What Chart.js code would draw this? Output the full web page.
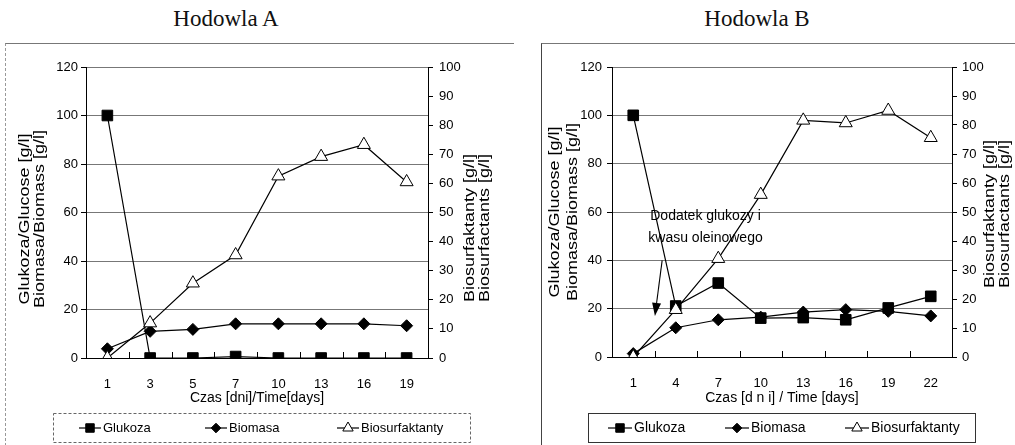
<!DOCTYPE html>
<html><head><meta charset="utf-8">
<script src="https://cdn.jsdelivr.net/npm/chart.js@4/dist/chart.umd.min.js"></script>
<style>
html,body{margin:0;padding:0;background:#fff;width:1015px;height:445px;overflow:hidden;position:relative}
.t{position:absolute;top:6px;font-family:'Liberation Serif','Times New Roman',serif;font-size:23px;color:#111;transform:translateX(-50%);white-space:nowrap}
#fA{position:absolute;left:5px;top:43px;width:508px;height:402px;border-top:1px solid #777;border-left:1px dashed #999}
#fB{position:absolute;left:541px;top:43px;width:474px;height:402px;border-top:1px solid #777;border-left:1px solid #444}
.w{position:absolute;top:0}
canvas{display:block}
</style></head>
<body>
<div id="fA"></div><div id="fB"></div>
<div class="t" style="left:226px">Hodowla A</div>
<div class="t" style="left:757px">Hodowla B</div>
<div class="w" style="left:0"><canvas id="cA" width="520" height="445"></canvas></div>
<div class="w" style="left:520px"><canvas id="cB" width="495" height="445"></canvas></div>
<script>
// ---- data ----
const daysA = ['1','3','5','7','10','13','16','19'];
const glukozaA = [100, 0, 0, 0.6, 0, 0, 0, 0];
const biomasaA = [3.8, 11, 11.8, 14.1, 14.1, 14.1, 14.1, 13.3];
const biosurfA = [0, 12, 25.7, 35.4, 62.5, 69.2, 73.3, 60.5];

const daysB = ['1','4','7','10','13','16','19','22'];
const glukozaB = [100, 21.1, 30.6, 16.1, 16.3, 15.4, 20.3, 25.1];
const biomasaB = [1.4, 12.1, 15.4, 16.5, 18.6, 19.6, 18.9, 17];
const biosurfB = [0, 16.3, 33.9, 56, 81.6, 80.7, 85, 75.6];

const seriesNames = ['Glukoza', 'Biomasa', 'Biosurfaktanty'];
const leftTicks = {min: 0, max: 120, step: 20};
const rightTicks = {min: 0, max: 100, step: 10};
const xTitleA = 'Czas [dni]/Time[days]';
const xTitleB = 'Czas [d n i] / Time [days]';
const yTitleL = ['Glukoza/Glucose [g/l]', 'Biomasa/Biomass [g/l]'];
const yTitleR = ['Biosurfaktanty [g/l]', 'Biosurfactants [g/l]'];
const noteLines = ['Dodatek glukozy i', 'kwasu oleinowego'];

const FONT = "'Liberation Sans', Arial, sans-serif";

function drawMarker(ctx, style, x, y, r, fill, stroke) {
  ctx.save();
  ctx.fillStyle = fill; ctx.strokeStyle = stroke; ctx.lineWidth = 1;
  ctx.beginPath();
  if (style === 'rect') {
    const s = r * Math.SQRT1_2;
    ctx.rect(x - s, y - s, 2 * s, 2 * s);
  } else if (style === 'rectRot') {
    ctx.moveTo(x, y - r); ctx.lineTo(x + r, y); ctx.lineTo(x, y + r); ctx.lineTo(x - r, y); ctx.closePath();
  } else {
    const a = 2 * Math.PI / 3;
    ctx.moveTo(x, y - r);
    ctx.lineTo(x + Math.sin(a) * r, y - Math.cos(a) * r);
    ctx.lineTo(x + Math.sin(2 * a) * r, y - Math.cos(2 * a) * r);
    ctx.closePath();
  }
  ctx.fill(); ctx.stroke();
  ctx.restore();
}

const boxLegend = {
  id: 'boxLegend',
  afterDraw(chart, args, o) {
    const ctx = chart.ctx;
    ctx.save();
    ctx.strokeStyle = o.borderColor; ctx.lineWidth = 1;
    if (o.dash) ctx.setLineDash(o.dash);
    ctx.strokeRect(o.x + .5, o.y + .5, o.w, o.h);
    ctx.setLineDash([]);
    ctx.font = o.font; ctx.textBaseline = 'middle'; ctx.textAlign = 'left';
    const cy = o.y + o.h / 2 + 0.5;
    chart.data.datasets.forEach((ds, i) => {
      const mx = o.items[i];
      ctx.strokeStyle = '#000'; ctx.lineWidth = 1.2;
      ctx.beginPath(); ctx.moveTo(mx - o.seg / 2, cy); ctx.lineTo(mx + o.seg / 2, cy); ctx.stroke();
      drawMarker(ctx, ds.pointStyle, mx, cy, ds.pointRadius * 0.8, ds.pointBackgroundColor, ds.pointBorderColor);
      ctx.fillStyle = '#000';
      ctx.fillText(ds.label, mx + o.seg / 2 + 2, cy);
    });
    ctx.restore();
  }
};

const axisTitles = {
  id: 'axisTitles',
  afterDraw(chart, args, o) {
    const ctx = chart.ctx;
    o.items.forEach(it => {
      ctx.save();
      ctx.translate(it.x, it.y);
      ctx.rotate(-Math.PI / 2);
      ctx.scale(o.stretch, 1);
      ctx.font = o.font; ctx.fillStyle = '#000';
      ctx.textAlign = 'center'; ctx.textBaseline = 'middle';
      ctx.fillText(it.text, 0, 0);
      ctx.restore();
    });
  }
};

// small upward tick marks between categories on the x axis
const innerTicks = {
  id: 'innerTicks',
  afterDatasetsDraw(chart, args, o) {
    const xs = chart.scales.x, ctx = chart.ctx, n = chart.data.labels.length;
    const yb = Math.round(chart.chartArea.bottom);
    ctx.save();
    ctx.strokeStyle = '#000'; ctx.lineWidth = 1;
    ctx.beginPath();
    for (let i = 0; i <= n; i++) {
      const px = Math.round(xs.getPixelForValue(i - 0.5)) + 0.5;
      ctx.moveTo(px, yb); ctx.lineTo(px, yb - o.len);
    }
    ctx.stroke();
    ctx.restore();
  }
};

const annot = {
  id: 'annot',
  afterDatasetsDraw(chart, args, o) {
    if (!o || !o.lines) return;
    const xs = chart.scales.x, ys = chart.scales.y, ctx = chart.ctx;
    ctx.save();
    ctx.font = o.font; ctx.fillStyle = '#000'; ctx.textAlign = 'center'; ctx.textBaseline = 'middle';
    o.lines.forEach((t, i) => ctx.fillText(t, xs.getPixelForValue(o.textX), ys.getPixelForValue(o.textY[i])));
    const x1 = xs.getPixelForValue(o.from[0]), y1 = ys.getPixelForValue(o.from[1]);
    const x2 = xs.getPixelForValue(o.to[0]), y2 = ys.getPixelForValue(o.to[1]);
    const ang = Math.atan2(y2 - y1, x2 - x1), L = 13, W = 4.5;
    const bx = x2 - Math.cos(ang) * L, by = y2 - Math.sin(ang) * L;
    ctx.strokeStyle = '#000'; ctx.lineWidth = 1.1;
    ctx.beginPath(); ctx.moveTo(x1, y1); ctx.lineTo(bx, by); ctx.stroke();
    ctx.beginPath();
    ctx.moveTo(x2, y2);
    ctx.lineTo(bx + Math.sin(ang) * W, by - Math.cos(ang) * W);
    ctx.lineTo(bx - Math.sin(ang) * W, by + Math.cos(ang) * W);
    ctx.closePath(); ctx.fill();
    ctx.restore();
  }
};

function datasets(g, b, s) {
  const base = {borderColor: '#000', borderWidth: 1.2, pointBorderColor: '#000', pointBorderWidth: 1, tension: 0, fill: false};
  return [
    Object.assign({}, base, {label: seriesNames[0], data: g, yAxisID: 'y', pointStyle: 'rect', pointRadius: 7.5, pointBackgroundColor: '#000', order: 1}),
    Object.assign({}, base, {label: seriesNames[1], data: b, yAxisID: 'y', pointStyle: 'rectRot', pointRadius: 6, pointBackgroundColor: '#000', order: 2}),
    Object.assign({}, base, {label: seriesNames[2], data: s, yAxisID: 'y1', pointStyle: 'triangle', pointRadius: 7.5, pointBackgroundColor: '#fff', order: 0})
  ];
}

function options(cfg) {
  const tickFont = {family: FONT, size: 13};
  return {
    responsive: false, animation: false, devicePixelRatio: 1,
    layout: {padding: {top: cfg.top, left: 0, right: 0, bottom: 0}},
    plugins: {
      legend: {display: false}, tooltip: {enabled: false},
      boxLegend: cfg.legend,
      axisTitles: {items: cfg.titles, font: '15px ' + FONT, stretch: 1.2},
      innerTicks: {len: 6},
      annot: cfg.annot || {}
    },
    scales: {
      x: {
        type: 'category', offset: true,
        grid: {display: false, drawTicks: false, tickLength: 0},
        border: {display: true, color: '#000', width: 1},
        ticks: {color: '#000', font: tickFont, padding: 19, maxRotation: 0, autoSkip: false},
        title: {display: true, text: cfg.xTitle, color: '#000', font: {family: FONT, size: 14}, padding: {top: 0, bottom: 38}},
        afterFit(s) { s.height = cfg.xH; }
      },
      y: {
        position: 'left', min: leftTicks.min, max: leftTicks.max,
        ticks: {stepSize: leftTicks.step, color: '#000', font: tickFont, padding: cfg.yPad},
        grid: {color: '#777', tickColor: '#000', tickLength: 5},
        border: {color: '#000', width: 1},
        afterFit(s) { s.width = cfg.yW; }
      },
      y1: {
        position: 'right', min: rightTicks.min, max: rightTicks.max,
        ticks: {stepSize: rightTicks.step, color: '#000', font: tickFont, padding: cfg.y1Pad},
        grid: {drawOnChartArea: false, tickColor: '#000', tickLength: 5},
        border: {color: '#000', width: 1},
        afterFit(s) { s.width = cfg.y1W; }
      }
    }
  };
}

new Chart(document.getElementById('cA'), {
  type: 'line',
  data: {labels: daysA, datasets: datasets(glukozaA, biomasaA, biosurfA)},
  options: options({
    top: 67, xH: 87, yW: 86, y1W: 92, yPad: 3, y1Pad: 6, xTitle: xTitleA,
    legend: {x: 53, y: 413, w: 417, h: 29, borderColor: '#666', dash: [3, 2], items: [90, 216, 348], seg: 22, font: '13px ' + FONT},
    titles: [{text: yTitleL[0], x: 25, y: 219}, {text: yTitleL[1], x: 40, y: 219},
             {text: yTitleR[0], x: 470, y: 228}, {text: yTitleR[1], x: 485, y: 228}]
  }),
  plugins: [boxLegend, axisTitles, innerTicks, annot]
});

new Chart(document.getElementById('cB'), {
  type: 'line',
  data: {labels: daysB, datasets: datasets(glukozaB, biomasaB, biosurfB)},
  options: options({
    top: 67, xH: 88, yW: 92, y1W: 63, yPad: 5, y1Pad: 5, xTitle: xTitleB,
    legend: {x: 68, y: 413, w: 387, h: 29, borderColor: '#333', dash: null, items: [100, 217, 337], seg: 24, font: '14px ' + FONT},
    titles: [{text: yTitleL[0], x: 35, y: 212}, {text: yTitleL[1], x: 53, y: 212},
             {text: yTitleR[0], x: 470, y: 214}, {text: yTitleR[1], x: 485, y: 214}],
    annot: {lines: noteLines, font: '14px ' + FONT, textX: 1.7, textY: [58.2, 49.1], from: [0.68, 40], to: [0.51, 17]}
  }),
  plugins: [boxLegend, axisTitles, innerTicks, annot]
});
</script>
</body></html>
